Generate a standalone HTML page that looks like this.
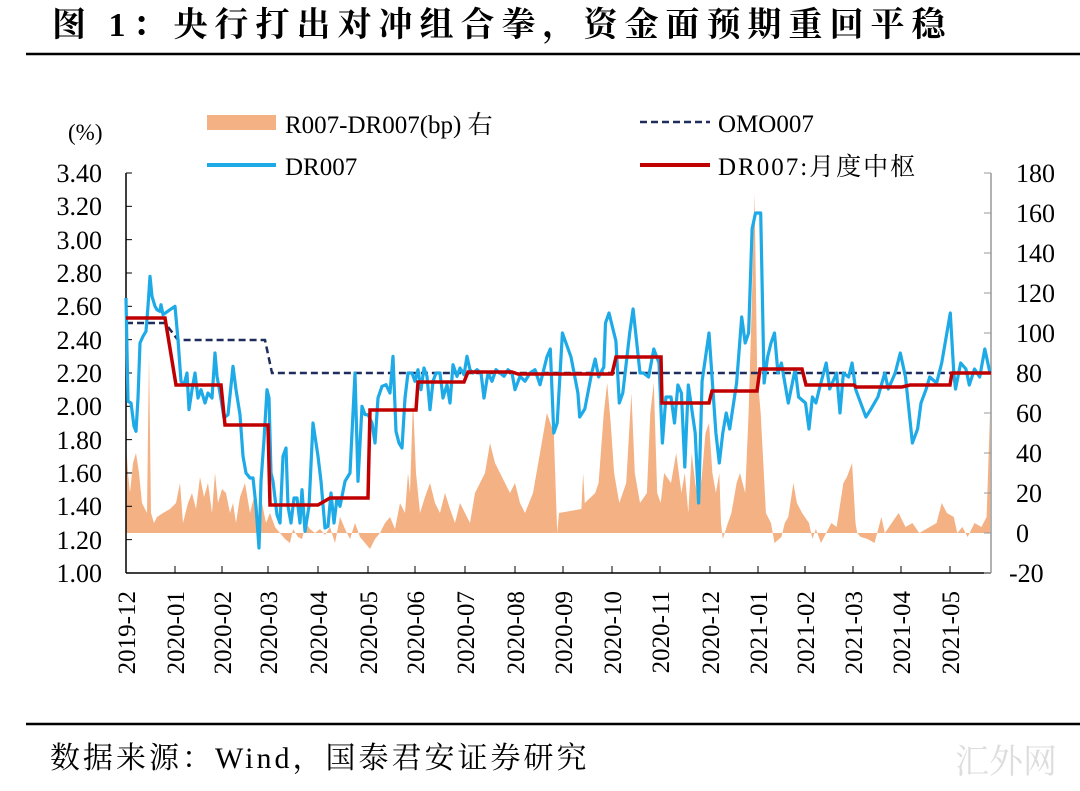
<!DOCTYPE html>
<html><head><meta charset="utf-8"><style>
body{margin:0;background:#fff;width:1080px;height:791px;overflow:hidden}
svg{display:block}
text{font-family:"Liberation Serif","Noto Serif CJK SC",serif;fill:#000}
</style></head><body>
<svg id="s" width="1080" height="791" viewBox="0 0 1080 791">
<text x="52" y="36" font-size="34" font-weight="bold" letter-spacing="7">图 1：央行打出对冲组合拳，资金面预期重回平稳</text>
<line x1="26" y1="54" x2="1080" y2="54" stroke="#000" stroke-width="2.5"/>
<line x1="26" y1="724" x2="1080" y2="724" stroke="#000" stroke-width="2.5"/>
<text x="50" y="768" font-size="30" letter-spacing="3">数据来源：Wind，国泰君安证券研究</text>
<text x="955" y="773" font-size="34" fill="#ddd" style="fill:#ddd">汇外网</text>
<g id="plot"></g>
<text x="68" y="140" font-size="23">(%)</text>
<rect x="207" y="115" width="69" height="15" fill="#f4b183"/>
<text x="285" y="133" font-size="25">R007-DR007(bp) 右</text>
<line x1="207" y1="165" x2="276" y2="165" stroke="#1eaae7" stroke-width="4"/>
<text x="285" y="175" font-size="25">DR007</text>
<line x1="640" y1="122" x2="710" y2="122" stroke="#1f2d5c" stroke-width="2.5" stroke-dasharray="7,4"/>
<text x="718" y="132" font-size="25">OMO007</text>
<line x1="640" y1="165" x2="710" y2="165" stroke="#c00000" stroke-width="4"/>
<text x="718" y="175" font-size="25" letter-spacing="2">DR007:月度中枢</text>
<g font-size="26">
<text x="102" y="182" text-anchor="end">3.40</text><text x="102" y="215" text-anchor="end">3.20</text>
<text x="102" y="249" text-anchor="end">3.00</text><text x="102" y="282" text-anchor="end">2.80</text>
<text x="102" y="315" text-anchor="end">2.60</text><text x="102" y="349" text-anchor="end">2.40</text>
<text x="102" y="382" text-anchor="end">2.20</text><text x="102" y="415" text-anchor="end">2.00</text>
<text x="102" y="449" text-anchor="end">1.80</text><text x="102" y="482" text-anchor="end">1.60</text>
<text x="102" y="515" text-anchor="end">1.40</text><text x="102" y="549" text-anchor="end">1.20</text>
<text x="102" y="582" text-anchor="end">1.00</text>
<text x="1016" y="182">180</text><text x="1016" y="222">160</text><text x="1016" y="262">140</text>
<text x="1016" y="302">120</text><text x="1016" y="342">100</text><text x="1016" y="382">80</text>
<text x="1016" y="422">60</text><text x="1016" y="462">40</text><text x="1016" y="502">20</text>
<text x="1016" y="542">0</text><text x="1009" y="582">-20</text>
</g>
<g id="xl" font-size="25"></g>
</svg>
<script>
var NS="http://www.w3.org/2000/svg",P=document.getElementById('plot');
function el(t,a){var e=document.createElementNS(NS,t);for(var k in a)e.setAttribute(k,a[k]);P.appendChild(e);return e;}
function yl(v){return 573-(v-1)*166.667}
function yr(b){return 533-2*b}
function zx(z){return 540+z/2.9}
var A=[[126,45],[128,30],[130,20],[133,35],[136,40],[139,30],[142,15],[145,12],[147,10],[149,89],[151,10],[154,5],[157,8],[163,10],[170,12],[176,15],[180,25],[183,5],[188,15],[192,20],[196,12],[200,28],[204,18],[208,25],[212,10],[215,30],[218,15],[222,22],[226,20],[230,10],[233,15],[236,5],[240,18],[245,25],[250,10],[255,20],[258,5],[262,15],[266,5],[270,10],[275,3],[280,0],[285,-3],[290,-5],[293,2],[298,-2],[302,-3],[306,5],[310,2],[315,0],[320,2],[325,-1],[330,3],[335,-5],[340,8],[345,2],[350,-3],[355,5],[360,-2],[365,-5],[370,-8],[375,-3],[380,0],[385,5],[390,8],[395,2],[400,15],[405,10],[408,30],[410,20],[413,66],[416,30],[420,10],[425,18],[430,25],[435,15],[440,10],[445,20],[450,12],[455,5],[460,15],[465,10],[470,5],[475,20],[480,25],[485,30],[490,45],[495,35],[500,30],[505,25],[510,20],[515,25],[520,15],[525,10],[533,20],[540,40]];
var Z=[[20,60],[40,50],[50,0],[55,10],[120,12],[125,30],[130,15],[160,20],[170,25],[185,60],[195,75],[205,55],[215,30],[230,15],[250,25],[265,70],[275,30],[290,15],[310,20],[320,60],[330,75],[340,20],[350,15],[360,30],[380,25],[395,40],[410,20],[420,30],[430,10],[440,40],[450,25],[460,15],[470,30],[480,50],[490,55],[500,30],[510,20],[520,30],[525,5],[530,-3],[545,5],[555,10],[570,25],[580,30],[595,20],[605,60],[615,120],[622,170],[630,80],[640,60],[655,10],[670,5],[680,-5],[700,-2],[710,5],[720,8],[735,25],[745,15],[760,10],[780,5],[790,-3],[800,2],[815,-5],[830,0],[845,5],[860,3],[880,25],[890,28],[905,35],[915,5],[920,0],[930,-2],[950,-3],[970,-5],[990,8],[1000,0],[1020,5],[1040,10],[1060,3],[1080,5],[1100,0],[1130,3],[1150,5],[1165,15],[1180,10],[1200,8],[1210,0],[1225,3],[1240,-2],[1260,5],[1280,3],[1295,8],[1305,60]];
Z.forEach(function(p){A.push([zx(p[0]),p[1]])});
var d="M126,533 ";A.forEach(function(p){d+="L"+p[0].toFixed(1)+","+yr(p[1]).toFixed(1)+" "});d+="L"+zx(1305).toFixed(1)+",533 Z";
el('path',{d:d,fill:'#f4b183'});
el('line',{x1:126,y1:173,x2:126,y2:573,stroke:'#000','stroke-width':1.5});
el('line',{x1:126,y1:573,x2:991,y2:573,stroke:'#000','stroke-width':1.5});
el('line',{x1:991,y1:173,x2:991,y2:573,stroke:'#999','stroke-width':1.5});
for(var i=0;i<13;i++){var y=173+i*33.33;el('line',{x1:126,y1:y,x2:132,y2:y,stroke:'#000'});}
for(var i=0;i<11;i++){var y=173+i*40;el('line',{x1:984,y1:y,x2:991,y2:y,stroke:'#999'});}
var M=["2019-12","2020-01","2020-02","2020-03","2020-04","2020-05","2020-06","2020-07","2020-08","2020-09","2020-10","2020-11","2020-12","2021-01","2021-02","2021-03","2021-04","2021-05"];
var MX=[126,175,222,268,318,368,415,465,515,563,612,660,710,758,805,853,901,950];
var XL=document.getElementById('xl');
M.forEach(function(m,i){var x=MX[i];if(i>0)el('line',{x1:x,y1:566,x2:x,y2:573,stroke:'#000'});
 var t=document.createElementNS(NS,'text');t.setAttribute('transform','translate('+(x+9)+',591) rotate(-90)');t.setAttribute('text-anchor','end');t.textContent=m;XL.appendChild(t);});
el('polyline',{points:"126,323 165,323 178,340 265,340 272,373 991,373",fill:'none',stroke:'#1f2d5c','stroke-width':2.5,'stroke-dasharray':'7,4'});
var B=[[126,2.65],[128,2.03],[131,2.02],[134,1.88],[136,1.85],[138,2.05],[140,2.38],[143,2.42],[146,2.45],[148,2.6],[150,2.78],[152,2.66],[155,2.6],[157,2.58],[160,2.57],[161,2.61],[163,2.55],[170,2.58],[175,2.6],[178,2.4],[181,2.15],[184,2.13],[187,2.2],[189,1.98],[192,2.1],[195,2.2],[198,2.05],[201,2.1],[205,2.02],[208,2.08],[212,2.05],[215,2.32],[217,2.18],[220,2.08],[224,1.93],[228,1.95],[233,2.24],[236,2.1],[240,1.95],[243,1.7],[246,1.6],[250,1.57],[253,1.57],[256,1.4],[259,1.15],[261,1.55],[264,1.8],[267,2.1],[269,2.05],[271,1.6],[273,1.55],[277,1.35],[280,1.3],[283,1.7],[286,1.75],[288,1.4],[291,1.3],[294,1.45],[297,1.45],[300,1.3],[302,1.5],[305,1.25],[309,1.4],[313,1.9],[318,1.7],[321,1.55],[325,1.27],[328,1.28],[331,1.48],[334,1.3],[337,1.45],[340,1.4],[345,1.55],[350,1.6],[355,2.2],[358,1.55],[362,2.0],[365,1.95],[368,1.95],[372,1.9],[375,1.78],[378,2.05],[382,2.12],[386,2.13],[390,2.08],[393,2.3],[396,1.85],[399,1.78],[402,1.75],[405,2.05],[408,2.2],[412,2.2],[415,2.15],[418,2.22],[421,2.1],[424,2.23],[427,2.18],[430,1.98],[433,2.15],[436,2.2],[440,2.2],[443,2.05],[447,2.13],[450,2.02],[453,2.25],[457,2.18],[460,2.23],[464,2.19],[467,2.3],[470,2.22],[473,2.2],[477,2.22],[481,2.2],[484,2.05],[488,2.2],[492,2.15],[496,2.22],[500,2.2],[504,2.18],[508,2.22],[512,2.2],[515,2.1],[520,2.18],[525,2.15],[530,2.2],[535,2.22],[540,2.13]];
var BZ=[[20,88],[30,92],[40,50],[50,55],[65,100],[90,88],[110,70],[115,58],[130,62],[150,80],[160,87],[170,78],[185,83],[190,105],[200,110],[220,96],[230,65],[240,70],[260,100],[270,112],[290,80],[300,80],[315,78],[330,92],[345,85],[355,45],[365,68],[380,68],[390,55],[400,74],[410,70],[420,33],[430,74],[450,50],[460,15],[470,76],[490,100],[510,50],[520,35],[530,50],[540,60],[550,52],[570,75],[585,108],[595,95],[605,100],[615,152],[625,160],[640,160],[650,75],[660,88],[670,95],[680,100],[690,80],[700,85],[720,65],[740,82],[750,68],[770,65],[780,52],[790,68],[800,65],[810,72],[830,85],[840,72],[860,80],[870,60],[880,80],[895,78],[905,85],[915,72],[930,65],[945,58],[960,62],[980,68],[1000,80],[1010,72],[1030,80],[1045,90],[1060,78],[1080,45],[1095,52],[1105,65],[1120,72],[1130,78],[1150,75],[1165,85],[1190,110],[1200,80],[1205,72],[1220,85],[1235,82],[1245,74],[1260,82],[1275,78],[1290,92],[1305,80]];
var pts=B.map(function(p){return p[0]+","+yl(p[1]).toFixed(1)});
BZ.forEach(function(p){pts.push(zx(p[0]).toFixed(1)+","+yr(p[1]).toFixed(1))});
el('polyline',{points:pts.join(" "),fill:'none',stroke:'#1eaae7','stroke-width':3.2,'stroke-linejoin':'round'});
el('polyline',{points:"126,318 165,318 176,385 221,385 225,425 268,425 270,505 318,505 330,498 368,498 370,410 416,410 418,382 464,382 468,372 512,372 518,374 612,374 616,357 661,357 662,403 709,403 712,391 757,391 760,369 802,369 806,385 854,385 856,387 902,387 910,385 950,385 952,373 991,373",fill:'none',stroke:'#c00000','stroke-width':3.5});
</script>
</body></html>
